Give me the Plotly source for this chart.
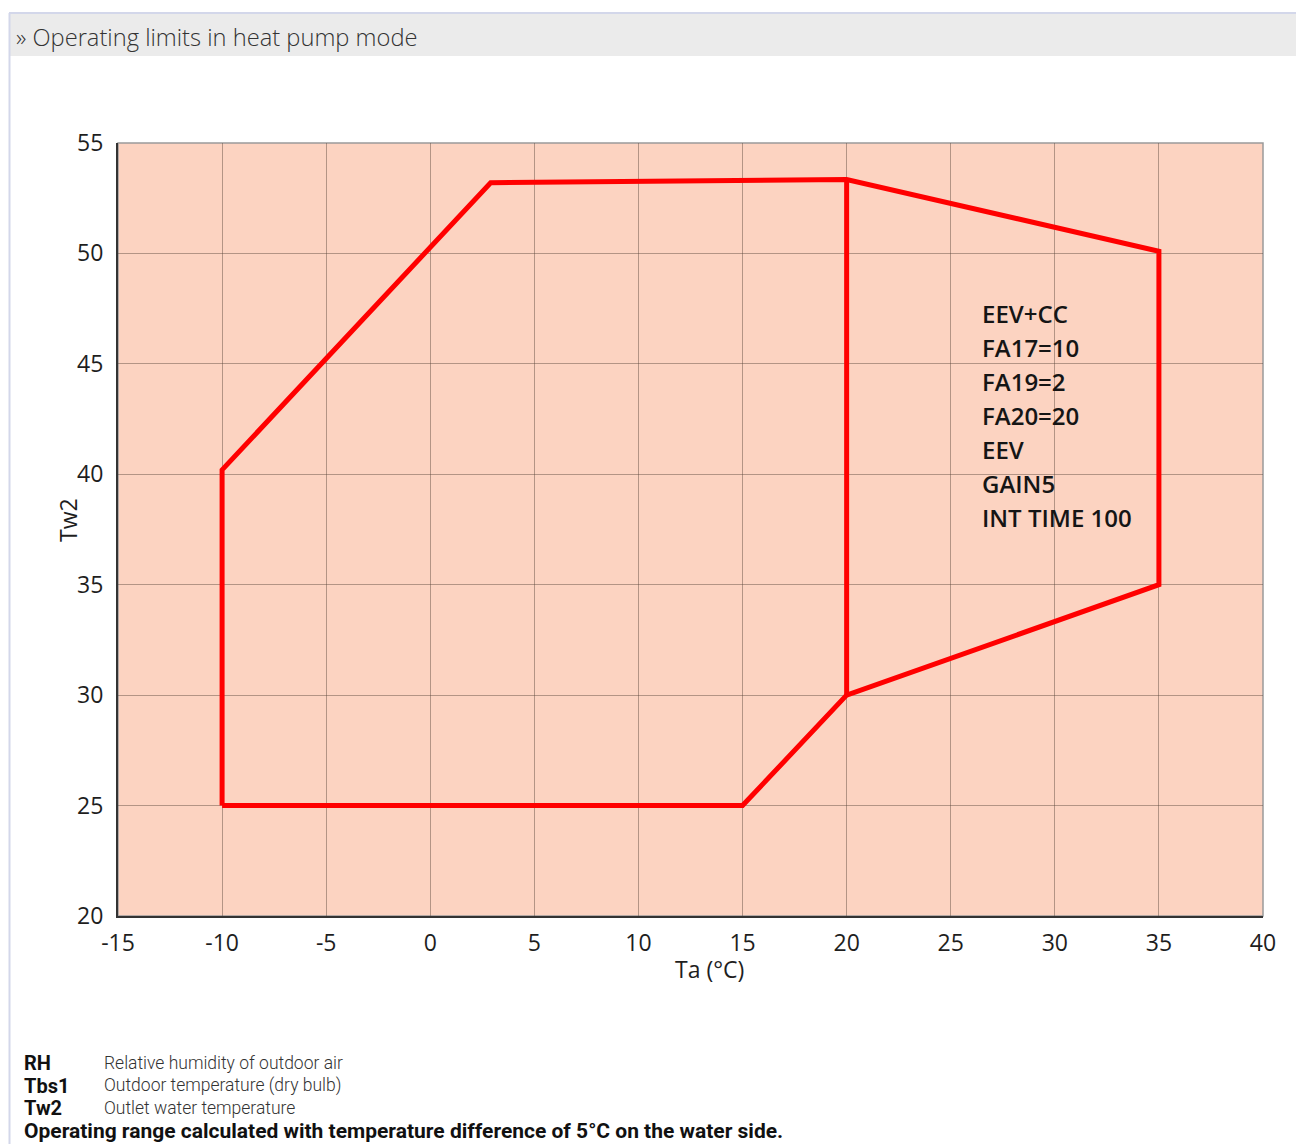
import plotly.graph_objects as go

# Operating envelope (outer polygon), Ta in degC, Tw2 in degC
env_ta = [-10, -10, 2.9, 20.0, 35.0, 35.0, 20.0, 15.0, -10]
env_tw = [25.0, 40.2, 53.2, 53.35, 50.1, 35.0, 30.0, 25.0, 25.0]

# Inner divider line at Ta = 20
div_ta = [20.0, 20.0]
div_tw = [30.0, 53.35]

# Note block inside the chart
note_lines = ["EEV+CC", "FA17=10", "FA19=2", "FA20=20", "EEV", "GAIN5", "INT TIME 100"]
note_x = 26.4
note_y = 47.3

x_ticks = list(range(-15, 41, 5))
x_labels = [str(v) for v in x_ticks]  # plain hyphen minus like the original
y_ticks = list(range(20, 56, 5))

legend_keys = ["RH", "Tbs1", "Tw2"]
legend_text = ["Relative humidity of outdoor air", "Outdoor temperature (dry bulb)", "Outlet water temperature"]
footnote = "Operating range calculated with temperature difference of 5°C on the water side."

# page body adds an 8px margin, so the figure is a bit smaller than the window
OFF = 8
W, H = 1304 - OFF, 1144 - OFF
L, T = 118 - OFF, 143 - OFF
PW, PH = 1145, 773
R, B = W - L - PW, H - T - PH


def px(x):
    # screen pixel -> paper x
    return (x - OFF - L) / PW


def py(y):
    # screen pixel -> paper y
    return (T + PH - (y - OFF)) / PH


fig = go.Figure()
fig.add_trace(go.Scatter(x=env_ta, y=env_tw, mode="lines",
                         line=dict(color="#ff0000", width=5), hoverinfo="skip"))
fig.add_trace(go.Scatter(x=div_ta, y=div_tw, mode="lines",
                         line=dict(color="#ff0000", width=5), hoverinfo="skip"))

tick_font = dict(family="Open Sans", size=23, color="#1e1e1e")
fig.update_xaxes(range=[-15, 40], tickvals=x_ticks, ticktext=x_labels, showgrid=True,
                 gridcolor="rgba(90,70,60,0.45)", gridwidth=1, zeroline=False, showline=True,
                 linecolor="#333333", linewidth=2, tickfont=tick_font, ticks="", ticklabelstandoff=5)
fig.update_yaxes(range=[20, 55], tickvals=y_ticks, showgrid=True, gridcolor="rgba(90,70,60,0.45)",
                 gridwidth=1, zeroline=False, showline=True, linecolor="#333333", linewidth=2,
                 tickfont=tick_font, ticks="", ticklabelstandoff=8)

shapes = [
    # light border round the plot (top / right)
    dict(type="rect", xref="paper", yref="paper", x0=0, x1=1, y0=0, y1=1,
         line=dict(color="#9a9a9a", width=1.5), layer="below"),
    # header bar
    dict(type="rect", xref="paper", yref="paper", x0=px(10), x1=px(1310), y0=py(56), y1=py(13),
         fillcolor="#ebebeb", line=dict(width=0), layer="below"),
    dict(type="line", xref="paper", yref="paper", x0=px(9), x1=px(1310), y0=py(13), y1=py(13),
         line=dict(color="#d3d7ea", width=2)),
    dict(type="line", xref="paper", yref="paper", x0=px(9.5), x1=px(9.5), y0=py(13), y1=py(1150),
         line=dict(color="#d3d7ea", width=2)),
]

ann = [
    dict(text="» Operating limits in heat pump mode", xref="paper", yref="paper",
         x=px(14), y=py(37), xanchor="left", yanchor="middle", showarrow=False,
         font=dict(family="Open Sans", size=23.7, color="#333333", weight=300)),
    dict(text="Ta (°C)", xref="paper", yref="paper", x=px(709), y=py(969),
         xanchor="center", yanchor="middle", showarrow=False,
         font=dict(family="Open Sans", size=23, color="#1e1e1e")),
    dict(text="Tw2", xref="paper", yref="paper", x=px(68), y=py(520), textangle=-90,
         xanchor="center", yanchor="middle", showarrow=False,
         font=dict(family="Open Sans", size=23, color="#1e1e1e")),
]
for i, line in enumerate(note_lines):
    ann.append(dict(text=line, x=note_x, y=note_y, xref="x", yref="y", yshift=-34 * i,
                    xanchor="left", yanchor="middle", showarrow=False,
                    font=dict(family="Open Sans", size=24, color="#151515", weight=600)))

for i, (k, t) in enumerate(zip(legend_keys, legend_text)):
    yy = 1063 + 22.5 * i
    ann.append(dict(text="<b>" + k + "</b>", xref="paper", yref="paper", x=px(22), y=py(yy),
                    xanchor="left", yanchor="middle", showarrow=False,
                    font=dict(family="Roboto", size=20, color="#111111")))
    ann.append(dict(text=t, xref="paper", yref="paper", x=px(102), y=py(yy),
                    xanchor="left", yanchor="middle", showarrow=False,
                    font=dict(family="Roboto", size=17.5, color="#333333", weight=300)))
ann.append(dict(text="<b>" + footnote + "</b>", xref="paper", yref="paper", x=px(22), y=py(1131),
                xanchor="left", yanchor="middle", showarrow=False,
                font=dict(family="Roboto", size=21, color="#111111")))

fig.update_layout(width=W, height=H, margin=dict(l=L, r=R, t=T, b=B, autoexpand=False),
                  plot_bgcolor="#fcd3c1", paper_bgcolor="#ffffff", showlegend=False,
                  shapes=shapes, annotations=ann)

fig.write_html("out.html")
